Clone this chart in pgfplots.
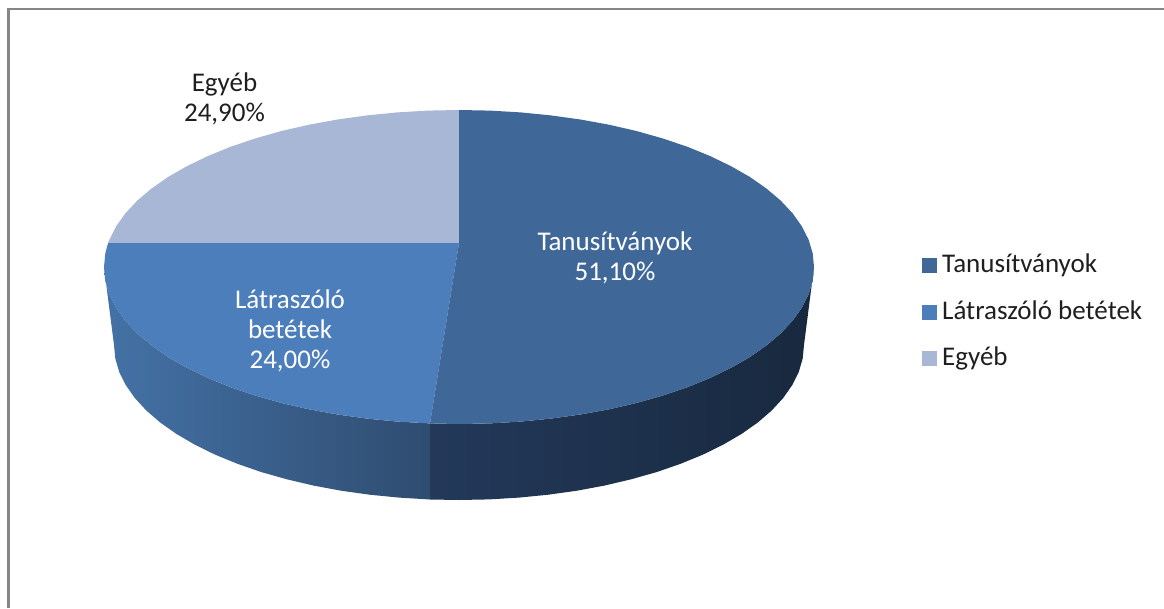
\documentclass[border=0pt]{standalone}
\usepackage{fontspec}
\setmainfont{Carlito}
\usepackage{pgfplots}
\pgfplotsset{compat=1.18}
\definecolor{cTan}{HTML}{3F6899}
\definecolor{cLat}{HTML}{4B7EBA}
\definecolor{cEgy}{HTML}{A8B7D6}
\definecolor{frameC}{HTML}{868686}
\definecolor{sideRa}{HTML}{23395B}
\definecolor{sideRb}{HTML}{18293E}
\definecolor{sideLa}{HTML}{4472A6}
\definecolor{sideLb}{HTML}{2F4C70}
\begin{document}
\begin{tikzpicture}
\path[use as bounding box] (0,0) rectangle (1164pt,608pt);
\begin{axis}[
  at={(0,0)}, anchor=south west,
  scale only axis, width=1164pt, height=608pt,
  xmin=0, xmax=1164, ymin=0, ymax=608, y dir=reverse,
  hide axis, clip=true,
  font=\fontsize{27}{30}\selectfont,
  every axis plot/.append style={no markers},
  legend style={draw=none, fill=none, at={(axis cs:922,312)}, anchor=west,
    inner sep=0pt, outer sep=0pt, row sep=26.5pt,
    nodes={anchor=west, text=black!88, inner sep=0pt, text height=17pt, text depth=3pt}},
  legend cell align=left,
  legend image code/.code={\fill[#1] (5pt,-7pt) rectangle (19pt,7pt); \path[draw=none,fill=none] (19pt,0pt) -- (25pt,0pt);},
]
\addlegendimage{cTan}\addlegendentry{Tanusítványok}
\addlegendimage{cLat}\addlegendentry{Látraszóló betétek}
\addlegendimage{cEgy}\addlegendentry{Egyéb}

% frame
\addplot[forget plot, draw=frameC, line width=2.6pt] coordinates {(8.5,608) (8.5,9) (1164,9)};

% right side wall (front right)
\addplot[forget plot, draw=none, left color=sideRa, right color=sideRb] coordinates {
(430,423.4)(459,424)(490.0,423.4)(520.6,421.6)(550.9,418.6)(580.4,414.5)(609.0,409.3)(636.5,403.0)(662.6,395.6)(687.2,387.3)(710.0,378.0)(730.9,367.9)(749.8,357.1)(766.4,345.5)(780.7,333.4)(792.6,320.7)(801.9,307.6)(808.6,294.3)(812.7,280.7)(814,267)
(804,345)(802.7,358.5)(798.8,371.9)(792.2,385.1)(783.2,398.0)(771.7,410.5)(757.8,422.5)(741.6,433.9)(723.3,444.6)(703.0,454.6)(680.8,463.7)(656.9,472.0)(631.5,479.2)(604.8,485.5)(577.0,490.7)(548.3,494.7)(518.9,497.6)(489.1,499.4)(459,500)(430,499.5)} -- cycle;

% left side wall (front left)
\addplot[forget plot, draw=none, left color=sideLa, right color=sideLb] coordinates {
(104,267)(105.3,280.7)(109.4,294.3)(116.1,307.6)(125.4,320.7)(137.3,333.4)(151.6,345.5)(168.2,357.1)(187.1,367.9)(208.0,378.0)(230.8,387.3)(255.4,395.6)(281.5,403.0)(309.0,409.3)(337.6,414.5)(367.1,418.6)(397.4,421.6)(430,423.4)
(430,499.5)(399.1,497.6)(369.7,494.7)(341.0,490.7)(313.2,485.5)(286.5,479.2)(261.1,472.0)(237.2,463.7)(215.0,454.6)(194.7,444.6)(176.4,433.9)(160.2,422.5)(146.3,410.5)(134.8,398.0)(125.8,385.1)(119.2,371.9)(115.3,358.5)(114,345)} -- cycle;

% Egyeb 24.9
\addplot[forget plot, draw=none, fill=cEgy] coordinates {
(459,243)(108.1,243)(109.4,239.7)(116.1,226.4)(125.4,213.3)(137.3,200.6)(151.6,188.5)(168.2,176.9)(187.1,166.1)(208.0,156.0)(230.8,146.7)(255.4,138.4)(281.5,131.0)(309.0,124.7)(337.6,119.5)(367.1,115.4)(397.4,112.4)(428.0,110.6)(459,110)} -- cycle;

% Latraszolo 24.0
\addplot[forget plot, draw=none, fill=cLat] coordinates {
(459,243)(430,423.4)(397.4,421.6)(367.1,418.6)(337.6,414.5)(309.0,409.3)(281.5,403.0)(255.4,395.6)(230.8,387.3)(208.0,378.0)(187.1,367.9)(168.2,357.1)(151.6,345.5)(137.3,333.4)(125.4,320.7)(116.1,307.6)(109.4,294.3)(105.3,280.7)(104,267)(105.3,253.3)(108.1,243)} -- cycle;

% Tanusitvanyok 51.1
\addplot[forget plot, draw=none, fill=cTan] coordinates {
(459,243)(459,110)(490.0,110.6)(520.6,112.4)(550.9,115.4)(580.4,119.5)(609.0,124.7)(636.5,131.0)(662.6,138.4)(687.2,146.7)(710.0,156.0)(730.9,166.1)(749.8,176.9)(766.4,188.5)(780.7,200.6)(792.6,213.3)(801.9,226.4)(808.6,239.7)(812.7,253.3)(814,267)(812.7,280.7)(808.6,294.3)(801.9,307.6)(792.6,320.7)(780.7,333.4)(766.4,345.5)(749.8,357.1)(730.9,367.9)(710.0,378.0)(687.2,387.3)(662.6,395.6)(636.5,403.0)(609.0,409.3)(580.4,414.5)(550.9,418.6)(520.6,421.6)(490.0,423.4)(459,424)(430,423.4)} -- cycle;

\node[white, align=center, inner sep=0pt] at (axis cs:615,257.5) {Tanusítványok\\51,10\%};
\node[white, align=center, inner sep=0pt] at (axis cs:290,330.5) {Látraszóló\\betétek\\24,00\%};
\node[black!88, align=center, inner sep=0pt] at (axis cs:224.5,99) {Egyéb\\24,90\%};
\end{axis}
\end{tikzpicture}
\end{document}
